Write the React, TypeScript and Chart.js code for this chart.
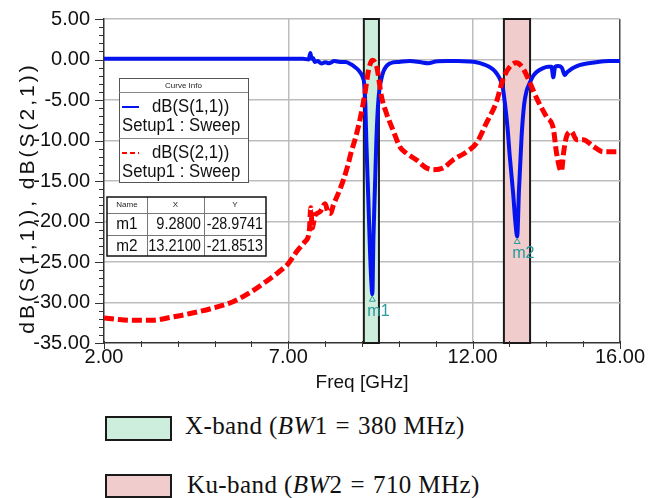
import React, { useEffect, useRef } from 'react';
import { Chart, registerables } from 'chart.js';

Chart.register(...registerables);

// ---------- data ----------
const S11_FREQ = [
  2.0, 2.5, 3.0, 3.5, 4.0, 4.5, 5.0, 5.5, 6.0, 6.5, 7.0, 7.4, 7.55, 7.6, 7.63, 7.67, 7.72, 7.8, 7.9, 8.0,
  8.1, 8.25, 8.4, 8.55, 8.7, 8.8, 8.9, 8.98, 9.03, 9.06, 9.09, 9.12, 9.17, 9.22, 9.26, 9.28, 9.31, 9.35, 9.39,
  9.43, 9.47, 9.52, 9.58, 9.65, 9.75, 9.85, 10.0, 10.3, 10.6, 10.8, 11.0, 11.3, 11.6, 11.9, 12.1, 12.3,
  12.45, 12.55, 12.65, 12.75, 12.82, 12.88, 12.95, 13.01, 13.1, 13.16, 13.21, 13.26, 13.33, 13.4, 13.47,
  13.52, 13.58, 13.65, 13.75, 13.9, 14.05, 14.14, 14.19, 14.24, 14.32, 14.42, 14.5, 14.56, 14.64, 14.75,
  14.9, 15.1, 15.4, 15.7, 16.0,
];
const S11_DB = [
  0.1, 0.1, 0.1, 0.1, 0.1, 0.1, 0.1, 0.1, 0.1, 0.1, 0.1, 0.1, 0.0, 0.8, 0.1, 0.2, -0.3, -0.2, -0.5, -0.35,
  -0.45, -0.2, -0.3, -0.3, -0.6, -0.9, -1.3, -1.8, -2.3, -3.0, -5.5, -10.5, -17, -24, -28, -28.97, -22, -16, -10,
  -6, -3.8, -2.5, -1.5, -0.9, -0.5, -0.35, -0.3, -0.2, -0.35, -0.45, -0.25, -0.2, -0.2, -0.25, -0.35, -0.6,
  -0.9, -1.2, -1.7, -2.5, -3.5, -5.5, -8.5, -12, -16.5, -20, -21.85, -16, -9.5, -5.5, -3.8,
  -3.2, -2.6, -2.0, -1.5, -1.1, -0.9, -0.9, -2.2, -0.9, -0.8, -1.0, -1.9, -1.6, -1.3, -1.0,
  -0.7, -0.5, -0.3, -0.2, -0.2,
];
const S21_FREQ = [
  2.0, 2.4, 2.8, 3.3, 3.85, 4.4, 4.95, 5.5, 5.95, 6.4, 6.75, 7.0, 7.23, 7.45, 7.57, 7.61, 7.65, 7.72, 7.86,
  8.0, 8.08, 8.15, 8.22, 8.36, 8.5, 8.62, 8.72, 8.81, 8.95, 9.08, 9.17, 9.28, 9.4, 9.53, 9.66, 9.84, 10.03,
  10.21, 10.48, 10.75, 10.93, 11.2, 11.47, 11.84, 12.11, 12.38, 12.65, 12.82, 13.01, 13.19, 13.37, 13.56,
  13.74, 14.01, 14.19, 14.28, 14.41, 14.47, 14.55, 14.68, 14.82, 15.0, 15.27, 15.54, 15.95, 16.0,
];
const S21_DB = [
  -31.9, -32.1, -32.2, -32.2, -31.8, -31.3, -30.7, -29.9, -28.8, -27.4, -26.2, -25.2, -23.7, -22.5, -21.2,
  -18.3, -20.8, -19.3, -18.8, -17.8, -18.9, -19.0, -18.0, -16.5, -14.8, -13.0, -11.2, -9.9, -7.3, -4.2, -1.5,
  -0.1, -0.9, -4.6, -6.6, -8.7, -10.8, -11.6, -12.4, -13.4, -13.6, -13.4, -12.4, -11.4, -10.3, -7.8, -5.2,
  -2.5, -0.9, -0.4, -1.1, -2.9, -4.8, -7.1, -8.5, -11.6, -13.8, -11.5, -9.5, -8.9, -9.9, -9.9, -10.7, -11.4,
  -11.4, -11.4,
];
const X_MIN = 2;
const X_MAX = 16;
const Y_MIN = -35;
const Y_MAX = 5;
const X_TICK_LABELS = [2, 7, 12, 16];
const X_TITLE = 'Freq [GHz]';
const Y_TITLE = 'dB(S(1,1)), dB(S(2,1))';
const SERIES_LABELS = ['dB(S(1,1))', 'dB(S(2,1))'];
const SWEEP_LABEL = 'Setup1 : Sweep';
const LEGEND_HEADER = 'Curve Info';
const BAND_START_GHZ = [9.05, 12.85];
const BAND_END_GHZ = [9.46, 13.56];
const BAND_NAMES = ['X-band', 'Ku-band'];
const BAND_BW_INDEX = ['1', '2'];
const BAND_BW_MHZ = [380, 710];
const MARKER_NAMES = ['m1', 'm2'];
const MARKER_X = [9.28, 13.21];
const MARKER_Y = [-28.9741, -21.8513];
const TABLE_HEADERS = ['Name', 'X', 'Y'];

// ---------- styles ----------
const FONT = '"Liberation Sans", Arial, sans-serif';
const BLUE = '#0514ee';
const RED = '#ff0000';
const BAND_FILLS = ['#cdeedd', '#f0cccc'];
const TEAL = '#2a9a9a';

const range = (a: number, b: number) => {
  const out: number[] = [];
  for (let v = a; v <= b; v++) out.push(v);
  return out;
};

function scaledText(ctx: CanvasRenderingContext2D, text: string, x: number, y: number, sx: number, align: CanvasTextAlign) {
  ctx.save();
  ctx.translate(x, y);
  ctx.scale(sx, 1);
  ctx.textAlign = align;
  ctx.fillText(text, 0, 0);
  ctx.restore();
}

const decorPlugin = {
  id: 'decor',
  beforeDatasetsDraw(chart: any) {
    const { ctx, chartArea, scales } = chart;
    const xs = scales.x;
    ctx.save();
    for (let i = 0; i < BAND_START_GHZ.length; i++) {
      const x0 = xs.getPixelForValue(BAND_START_GHZ[i]);
      const x1 = xs.getPixelForValue(BAND_END_GHZ[i]);
      ctx.fillStyle = BAND_FILLS[i];
      ctx.fillRect(x0, chartArea.top, x1 - x0, chartArea.bottom - chartArea.top);
      ctx.strokeStyle = '#1a1a1a';
      ctx.lineWidth = 2;
      ctx.strokeRect(x0, chartArea.top, x1 - x0, chartArea.bottom - chartArea.top);
    }
    ctx.restore();
  },
  afterDatasetsDraw(chart: any) {
    const { ctx, scales } = chart;
    const xs = scales.x;
    const ys = scales.y;
    ctx.save();
    // markers
    for (let i = 0; i < MARKER_NAMES.length; i++) {
      const px = xs.getPixelForValue(MARKER_X[i]);
      const py = ys.getPixelForValue(MARKER_Y[i]);
      ctx.strokeStyle = TEAL;
      ctx.lineWidth = 1;
      ctx.beginPath();
      ctx.moveTo(px, py + 2);
      ctx.lineTo(px - 3, py + 7);
      ctx.lineTo(px + 3, py + 7);
      ctx.closePath();
      ctx.stroke();
      ctx.fillStyle = TEAL;
      ctx.font = `17px ${FONT}`;
      ctx.textBaseline = 'middle';
      scaledText(ctx, MARKER_NAMES[i], px - 5, py + 17, 0.95, 'left');
    }

    // legend box ("Curve Info")
    const bx = 119, by = 78, bw = 129, bh = 104;
    ctx.fillStyle = '#ffffff';
    ctx.fillRect(bx, by, bw, bh);
    ctx.strokeStyle = '#555';
    ctx.lineWidth = 1;
    ctx.strokeRect(bx + 0.5, by + 0.5, bw, bh);
    ctx.strokeStyle = '#888';
    ctx.beginPath();
    ctx.moveTo(bx, by + 14.5); ctx.lineTo(bx + bw, by + 14.5);
    ctx.moveTo(bx, by + 60.5); ctx.lineTo(bx + bw, by + 60.5);
    ctx.stroke();
    ctx.fillStyle = '#222';
    ctx.textBaseline = 'middle';
    ctx.font = `8px ${FONT}`;
    scaledText(ctx, LEGEND_HEADER, bx + bw / 2, by + 8, 1, 'center');
    for (let i = 0; i < SERIES_LABELS.length; i++) {
      const top = by + 14 + i * 46;
      ctx.strokeStyle = i === 0 ? BLUE : RED;
      ctx.lineWidth = 2;
      ctx.setLineDash(i === 0 ? [] : [5, 3]);
      ctx.beginPath();
      ctx.moveTo(bx + 3, top + 15);
      ctx.lineTo(bx + 20, top + 15);
      ctx.stroke();
      ctx.setLineDash([]);
      ctx.fillStyle = '#111';
      ctx.font = `18px ${FONT}`;
      scaledText(ctx, SERIES_LABELS[i], bx + 33, top + 15, 0.93, 'left');
      scaledText(ctx, SWEEP_LABEL, bx + 3, top + 34, 0.93, 'left');
    }

    // marker table
    const cols = [107, 147, 204, 266];
    const rows = [197, 213, 235, 256];
    ctx.fillStyle = '#ffffff';
    ctx.fillRect(cols[0], rows[0], cols[3] - cols[0], rows[3] - rows[0]);
    ctx.strokeStyle = '#777';
    ctx.lineWidth = 1;
    ctx.beginPath();
    for (let c = 1; c < 3; c++) { ctx.moveTo(cols[c] + 0.5, rows[0]); ctx.lineTo(cols[c] + 0.5, rows[3]); }
    for (let r = 1; r < 3; r++) { ctx.moveTo(cols[0], rows[r] + 0.5); ctx.lineTo(cols[3], rows[r] + 0.5); }
    ctx.stroke();
    ctx.strokeStyle = '#111';
    ctx.lineWidth = 1.5;
    ctx.strokeRect(cols[0], rows[0], cols[3] - cols[0], rows[3] - rows[0]);
    ctx.fillStyle = '#222';
    ctx.font = `8px ${FONT}`;
    for (let c = 0; c < 3; c++) {
      scaledText(ctx, TABLE_HEADERS[c], (cols[c] + cols[c + 1]) / 2, (rows[0] + rows[1]) / 2, 1, 'center');
    }
    ctx.fillStyle = '#111';
    ctx.font = `17px ${FONT}`;
    for (let i = 0; i < MARKER_NAMES.length; i++) {
      const cy = (rows[i + 1] + rows[i + 2]) / 2 + 0.5;
      scaledText(ctx, MARKER_NAMES[i], (cols[0] + cols[1]) / 2, cy, 0.9, 'center');
      scaledText(ctx, MARKER_X[i].toFixed(4), cols[2] - 3, cy, 0.86, 'right');
      scaledText(ctx, MARKER_Y[i].toFixed(4), cols[3] - 3, cy, 0.84, 'right');
    }
    ctx.restore();
  },
  afterDraw(chart: any) {
    const { ctx, chartArea, scales } = chart;
    const xs = scales.x;
    const ys = scales.y;
    ctx.save();
    ctx.strokeStyle = '#333';
    ctx.lineWidth = 1;
    ctx.beginPath();
    for (const v of range(Y_MIN, Y_MAX)) {
      const py = Math.round(ys.getPixelForValue(v)) + 0.5;
      const len = v % 5 === 0 ? 9 : 5;
      ctx.moveTo(chartArea.left - len, py);
      ctx.lineTo(chartArea.left, py);
    }
    for (const v of range(X_MIN, X_MAX)) {
      const px = Math.round(xs.getPixelForValue(v)) + 0.5;
      const len = X_TICK_LABELS.includes(v) ? 6 : 4;
      ctx.moveTo(px, chartArea.bottom - 2);
      ctx.lineTo(px, chartArea.bottom + len);
    }
    ctx.stroke();

    // y axis title
    ctx.translate(28, 198);
    ctx.rotate(-Math.PI / 2);
    ctx.font = `21px ${FONT}`;
    (ctx as any).letterSpacing = '3px';
    ctx.textAlign = 'center';
    ctx.textBaseline = 'middle';
    ctx.fillStyle = '#111';
    ctx.fillText(Y_TITLE, 0, 0);
    (ctx as any).letterSpacing = '0px';
    ctx.restore();
  },
};

export default function App() {
  const canvasRef = useRef<HTMLCanvasElement | null>(null);

  useEffect(() => {
    const canvas = canvasRef.current;
    if (!canvas) return;
    const chart = new Chart(canvas, {
      type: 'line',
      data: {
        datasets: [
          {
            label: SERIES_LABELS[1],
            data: S21_FREQ.map((f, i) => ({ x: f, y: S21_DB[i] })),
            borderColor: RED,
            borderWidth: 5,
            borderDash: [10, 4],
            pointRadius: 0,
            cubicInterpolationMode: 'monotone',
            fill: false,
            order: 0,
          },
          {
            label: SERIES_LABELS[0],
            data: S11_FREQ.map((f, i) => ({ x: f, y: S11_DB[i] })),
            borderColor: BLUE,
            borderWidth: 4,
            pointRadius: 0,
            cubicInterpolationMode: 'monotone',
            fill: false,
            order: 1,
          },
        ],
      },
      options: {
        animation: false,
        responsive: false,
        devicePixelRatio: 1,
        layout: { padding: { left: 0, right: 40, top: 19, bottom: 0 } },
        plugins: { legend: { display: false }, tooltip: { enabled: false } },
        scales: {
          x: {
            type: 'linear',
            min: X_MIN,
            max: X_MAX,
            afterBuildTicks: (s: any) => {
              s.ticks = range(X_MIN, X_MAX).map((v) => ({ value: v }));
            },
            afterFit: (s: any) => {
              s.height = 57;
            },
            ticks: {
              autoSkip: false,
              maxRotation: 0,
              padding: -2,
              color: '#111',
              font: { family: FONT, size: 20, lineHeight: 1 },
              callback: (v: any) => (X_TICK_LABELS.includes(Number(v)) ? Number(v).toFixed(2) : ''),
            },
            grid: {
              color: (c: any) => {
                const v = c.tick ? c.tick.value : NaN;
                if (v === X_MAX) return '#444';
                if (v === X_MIN) return 'rgba(0,0,0,0)';
                return X_TICK_LABELS.includes(v) ? '#bdbdbd' : 'rgba(0,0,0,0)';
              },
              lineWidth: 1.5,
              tickColor: 'rgba(0,0,0,0)',
              tickLength: 6,
            },
            border: { color: '#333', width: 1.5 },
            title: {
              display: true,
              text: X_TITLE,
              color: '#111',
              font: { family: FONT, size: 19, lineHeight: 1.2 },
              padding: { top: 0, bottom: 6 },
            },
          },
          y: {
            type: 'linear',
            min: Y_MIN,
            max: Y_MAX,
            afterBuildTicks: (s: any) => {
              s.ticks = range(Y_MIN, Y_MAX).map((v) => ({ value: v }));
            },
            afterFit: (s: any) => {
              s.width = 104;
            },
            ticks: {
              autoSkip: false,
              padding: 5,
              color: '#111',
              font: { family: FONT, size: 20 },
              callback: (v: any) => (Number(v) % 5 === 0 ? Number(v).toFixed(2) : ''),
            },
            grid: {
              color: (c: any) => {
                const v = c.tick ? c.tick.value : NaN;
                return v % 5 === 0 && v !== Y_MIN ? '#bdbdbd' : 'rgba(0,0,0,0)';
              },
              lineWidth: 1.5,
              tickColor: 'rgba(0,0,0,0)',
              tickLength: 9,
            },
            border: { color: '#333', width: 1.5 },
            title: { display: false },
          },
        },
      },
      plugins: [decorPlugin],
    } as any);
    return () => chart.destroy();
  }, []);

  const legendText: React.CSSProperties = {
    position: 'absolute',
    left: 185,
    height: 32,
    lineHeight: '32px',
    font: '25px "Liberation Serif", "Times New Roman", serif',
    color: '#111',
    whiteSpace: 'nowrap',
    letterSpacing: '0.4px',
  };
  const swatch: React.CSSProperties = {
    position: 'absolute',
    left: 105,
    width: 67,
    boxSizing: 'border-box',
    border: '2px solid #1a1a1a',
  };

  return (
    <div style={{ position: 'absolute', left: 0, top: 0, width: 660, height: 498, overflow: 'hidden', background: '#fff' }}>
      <canvas ref={canvasRef} width={660} height={400} style={{ display: 'block', width: 660, height: 400 }} />
      {BAND_NAMES.map((name, i) => (
        <React.Fragment key={name}>
          <div style={{ ...swatch, top: i === 0 ? 416 : 474, height: i === 0 ? 25 : 24, background: BAND_FILLS[i] }} />
          <div style={{ ...legendText, left: i === 0 ? 185 : 187, top: (i === 0 ? 428 : 487) - 16 }}>
            {name} (<i>BW</i>
            {BAND_BW_INDEX[i]}
            <span style={{ margin: '0 0.32em' }}>=</span>
            {BAND_BW_MHZ[i]} MHz)
          </div>
        </React.Fragment>
      ))}
    </div>
  );
}
